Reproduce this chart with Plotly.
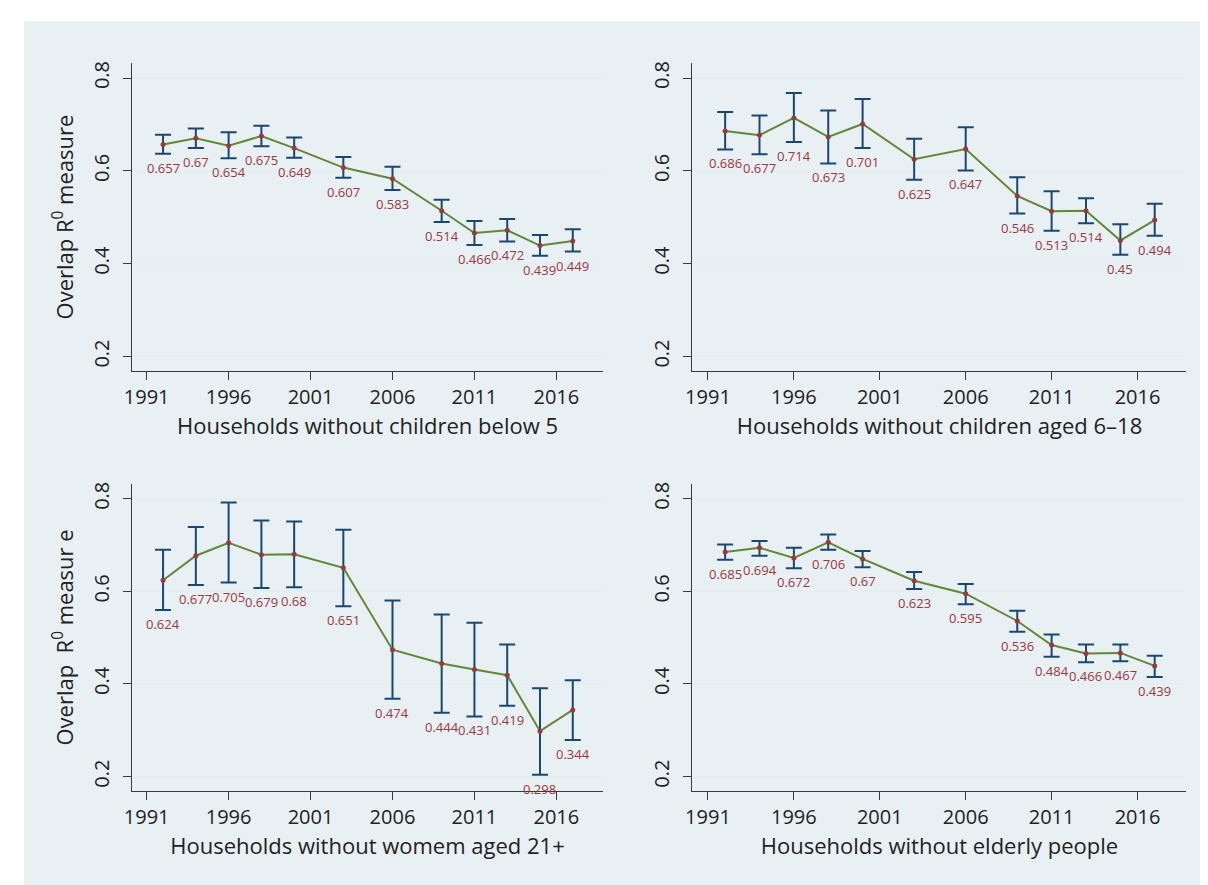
import plotly.graph_objects as go

years = [1992, 1994, 1996, 1998, 2000, 2003, 2006, 2009, 2011, 2013, 2015, 2017]
x_tick_vals = [1991, 1996, 2001, 2006, 2011, 2016]
y_tick_vals = [0.2, 0.4, 0.6, 0.8]
y_tick_text = ["0.2", "0.4", "0.6", "0.8"]

p1_title = "Households without children below 5"
p1_val = [0.657, 0.67, 0.654, 0.675, 0.649, 0.607, 0.583, 0.514, 0.466, 0.472, 0.439, 0.449]
p1_hi = [0.678, 0.691, 0.683, 0.697, 0.672, 0.630, 0.609, 0.538, 0.492, 0.496, 0.462, 0.474]
p1_lo = [0.637, 0.649, 0.627, 0.653, 0.628, 0.585, 0.559, 0.490, 0.440, 0.448, 0.417, 0.426]

p2_title = "Households without children aged 6\u201318"
p2_val = [0.686, 0.677, 0.714, 0.673, 0.701, 0.625, 0.647, 0.546, 0.513, 0.514, 0.45, 0.494]
p2_hi = [0.727, 0.719, 0.768, 0.730, 0.755, 0.669, 0.694, 0.586, 0.556, 0.541, 0.485, 0.529]
p2_lo = [0.646, 0.636, 0.662, 0.616, 0.649, 0.581, 0.601, 0.508, 0.471, 0.487, 0.419, 0.460]

p3_title = "Households without womem aged 21+"
p3_val = [0.624, 0.677, 0.705, 0.679, 0.68, 0.651, 0.474, 0.444, 0.431, 0.419, 0.298, 0.344]
p3_hi = [0.690, 0.739, 0.792, 0.753, 0.751, 0.733, 0.580, 0.550, 0.532, 0.485, 0.391, 0.408]
p3_lo = [0.560, 0.614, 0.619, 0.607, 0.609, 0.568, 0.368, 0.338, 0.330, 0.353, 0.204, 0.279]

p4_title = "Households without elderly people"
p4_val = [0.685, 0.694, 0.672, 0.706, 0.67, 0.623, 0.595, 0.536, 0.484, 0.466, 0.467, 0.439]
p4_hi = [0.701, 0.709, 0.694, 0.723, 0.687, 0.642, 0.616, 0.558, 0.507, 0.485, 0.485, 0.461]
p4_lo = [0.668, 0.677, 0.650, 0.690, 0.652, 0.605, 0.572, 0.513, 0.459, 0.447, 0.449, 0.415]

ytitle_top = "Overlap R<sup>0</sup> measure"
ytitle_bottom = "Overlap\u00a0 R<sup>0</sup> measur e"

W, H = 1208, 885
FONT = "Open Sans"
NAVY = "#1a476f"
MAROON = "#9a3840"
GREEN = "#5f8838"
BG = "#e9f0f3"
GRID = "#e6eef1"
AXIS = "#3a3a3a"
TXT = "#222222"

panels = [
    (p1_title, p1_val, p1_hi, p1_lo, ytitle_top, (116.7, 591.0), (53.3, 361.7)),
    (p2_title, p2_val, p2_hi, p2_lo, None, (681.0, 1178.3), (53.3, 361.7)),
    (p3_title, p3_val, p3_hi, p3_lo, ytitle_bottom, (116.7, 591.0), (475.0, 782.7)),
    (p4_title, p4_val, p4_hi, p4_lo, None, (681.0, 1178.3), (475.0, 782.7)),
]

fig = go.Figure()
annotations = []
layout_axes = {}

for i, (title, val, hi, lo, ytitle, xpx, ypx) in enumerate(panels):
    n = "" if i == 0 else str(i + 1)
    xa, ya = "x" + n, "y" + n
    up = [h - v for h, v in zip(hi, val)]
    dn = [v - l for v, l in zip(val, lo)]
    fig.add_trace(go.Scatter(
        x=years, y=val, mode="markers", xaxis=xa, yaxis=ya,
        marker=dict(size=1, opacity=0),
        error_y=dict(type="data", array=up, arrayminus=dn, symmetric=False,
                     color=NAVY, thickness=2, width=8),
        showlegend=False, hoverinfo="skip"))
    fig.add_trace(go.Scatter(
        x=years, y=val, mode="lines+markers", xaxis=xa, yaxis=ya,
        line=dict(color=GREEN, width=2),
        marker=dict(color=MAROON, size=5),
        showlegend=False))
    for x, l, v in zip(years, lo, val):
        annotations.append(dict(
            x=x, y=l, xref=xa, yref=ya, text=f"{v:g}", showarrow=False,
            yshift=-14, yanchor="middle", xanchor="center",
            font=dict(family=FONT, size=13, color=MAROON)))

    xdom = [xpx[0] / W, xpx[1] / W]
    ydom = [1 - ypx[1] / H, 1 - ypx[0] / H]
    xaxis = dict(
        domain=xdom, range=[1990.1, 2018.85], anchor=ya,
        tickvals=x_tick_vals, ticks="outside", ticklen=8, tickwidth=1.3,
        tickcolor=AXIS, showline=True, linecolor=AXIS, linewidth=1.3,
        showgrid=False, zeroline=False,
        tickfont=dict(family=FONT, size=20, color=TXT),
        title=dict(text=title, standoff=6,
                   font=dict(family=FONT, size=22, color=TXT)))
    yaxis = dict(
        domain=ydom, range=[0.169, 0.832], anchor=xa,
        tickvals=y_tick_vals, ticktext=y_tick_text, tickangle=-90,
        ticks="outside", ticklen=8, tickwidth=1.3, tickcolor=AXIS,
        showline=True, linecolor=AXIS, linewidth=1.3,
        showgrid=True, gridcolor=GRID, gridwidth=1.5, zeroline=False,
        ticklabelstandoff=6,
        tickfont=dict(family=FONT, size=20, color=TXT))
    if ytitle:
        yaxis["title"] = dict(text=ytitle, standoff=8,
                              font=dict(family=FONT, size=22, color=TXT))
    layout_axes["xaxis" + n] = xaxis
    layout_axes["yaxis" + n] = yaxis

fig.update_layout(
    width=W, height=H,
    margin=dict(l=0, r=0, t=0, b=0),
    paper_bgcolor="white", plot_bgcolor="white",
    annotations=annotations,
    shapes=[dict(type="rect", xref="paper", yref="paper", layer="below",
                 x0=8 / W, x1=1203 / W, y0=0, y1=1 - 11 / H,
                 fillcolor=BG, line=dict(width=0))],
    **layout_axes)

fig.write_html("out.html")
